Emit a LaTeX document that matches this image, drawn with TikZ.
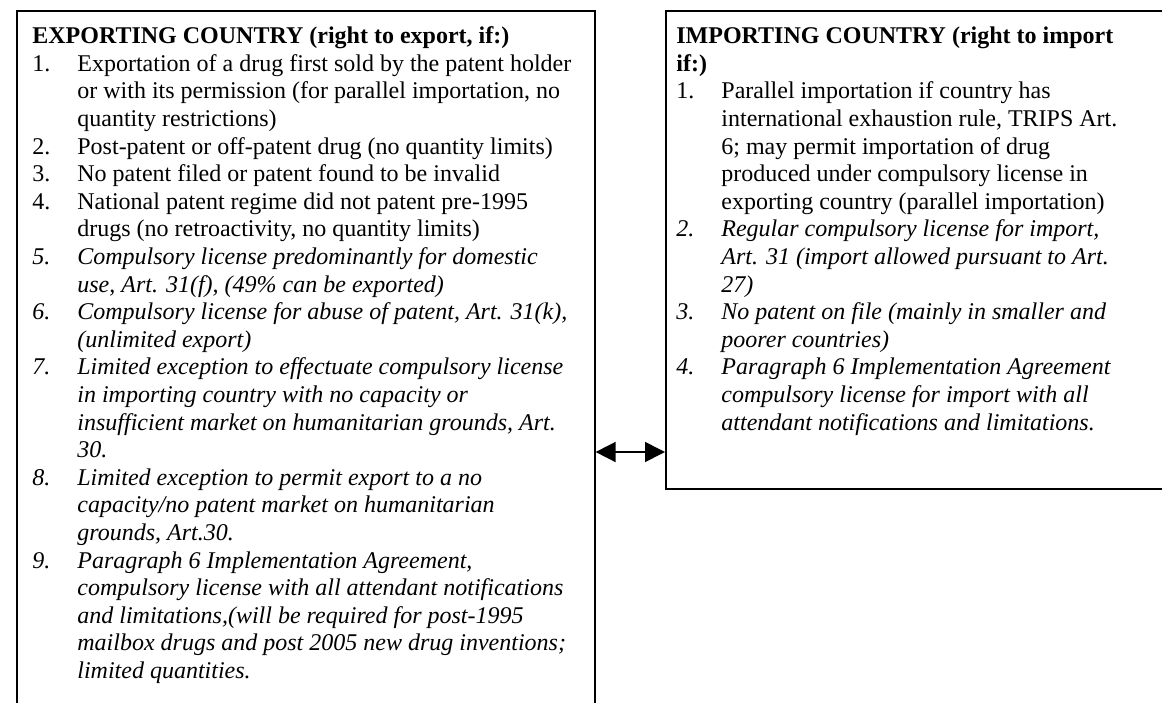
\documentclass[tikz,border=0pt]{standalone}
\usepackage{fontspec}
\setmainfont{Liberation Serif}
\usepackage{array}
\usetikzlibrary{arrows.meta}
\newcommand{\px}{0.5pt}
\tikzset{
    frame/.style={draw, line width=0.8pt, inner sep=0pt, anchor=north west},
    textblock/.style={anchor=north west, inner sep=0pt, font=\fontsize{12pt}{13.8pt}\selectfont},
    twoway/.style={{Triangle[length=10pt,width=10pt]}-{Triangle[length=10pt,width=10pt]}, line width=0.8pt}
}
% list rows: number, text / continuation line
\newcommand{\head}[1]{\multicolumn{2}{@{}l@{}}{\textbf{#1}}\\}
\newcommand{\itm}[2]{#1 & #2\\}
\newcommand{\iitm}[2]{\textit{#1} & \textit{#2}\\}
\newcommand{\cont}[1]{& #1\\}
\newcommand{\icont}[1]{& \textit{#1}\\}

\begin{document}
\begin{tikzpicture}[x=\px, y=-\px]
  \useasboundingbox (0,0) rectangle (1162,702);
  \clip (0,0) rectangle (1162,702);
  % the two boxes
  \node[frame, minimum width=578*\px, minimum height=760*\px] (exporter) at (16,10) {};
  \node[frame, minimum width=520*\px, minimum height=478*\px] (importer) at (665,10) {};
  % exporting side
  \node[textblock] (exportlist) at (32,24) {%
    \begin{tabular}{@{}p{22.5pt}@{}l@{}}
      \head{EXPORTING COUNTRY (right to export, if:)}
      \itm{1.}{Exportation of a drug first sold by the patent holder}
      \cont{or with its permission (for parallel importation, no}
      \cont{quantity restrictions)}
      \itm{2.}{Post-patent or off-patent drug (no quantity limits)}
      \itm{3.}{No patent filed or patent found to be invalid}
      \itm{4.}{National patent regime did not patent pre-1995}
      \cont{drugs (no retroactivity, no quantity limits)}
      \iitm{5.}{Compulsory license predominantly for domestic}
      \icont{use, Art. 31(f), (49\% can be exported)}
      \iitm{6.}{Compulsory license for abuse of patent, Art. 31(k),}
      \icont{(unlimited export)}
      \iitm{7.}{Limited exception to effectuate compulsory license}
      \icont{in importing country with no capacity or}
      \icont{insufficient market on humanitarian grounds, Art.}
      \icont{30.}
      \iitm{8.}{Limited exception to permit export to a no}
      \icont{capacity/no patent market on humanitarian}
      \icont{grounds, Art.30.}
      \iitm{9.}{Paragraph 6 Implementation Agreement,}
      \icont{compulsory license with all attendant notifications}
      \icont{and limitations,(will be required for post-1995}
      \icont{mailbox drugs and post 2005 new drug inventions;}
      \icont{limited quantities.}
    \end{tabular}};
  % importing side
  \node[textblock] (importlist) at (676,24) {%
    \begin{tabular}{@{}p{22.5pt}@{}l@{}}
      \head{IMPORTING COUNTRY (right to import}
      \head{if:)}
      \itm{1.}{Parallel importation if country has}
      \cont{international exhaustion rule, TRIPS Art.}
      \cont{6; may permit importation of drug}
      \cont{produced under compulsory license in}
      \cont{exporting country (parallel importation)}
      \iitm{2.}{Regular compulsory license for import,}
      \icont{Art. 31 (import allowed pursuant to Art.}
      \icont{27)}
      \iitm{3.}{No patent on file (mainly in smaller and}
      \icont{poorer countries)}
      \iitm{4.}{Paragraph 6 Implementation Agreement}
      \icont{compulsory license for import with all}
      \icont{attendant notifications and limitations.}
    \end{tabular}};
  % trade link
  \coordinate (link) at (0,452);
  \draw[twoway] (exporter.east |- link) -- (importer.west |- link);
\end{tikzpicture}
\end{document}
